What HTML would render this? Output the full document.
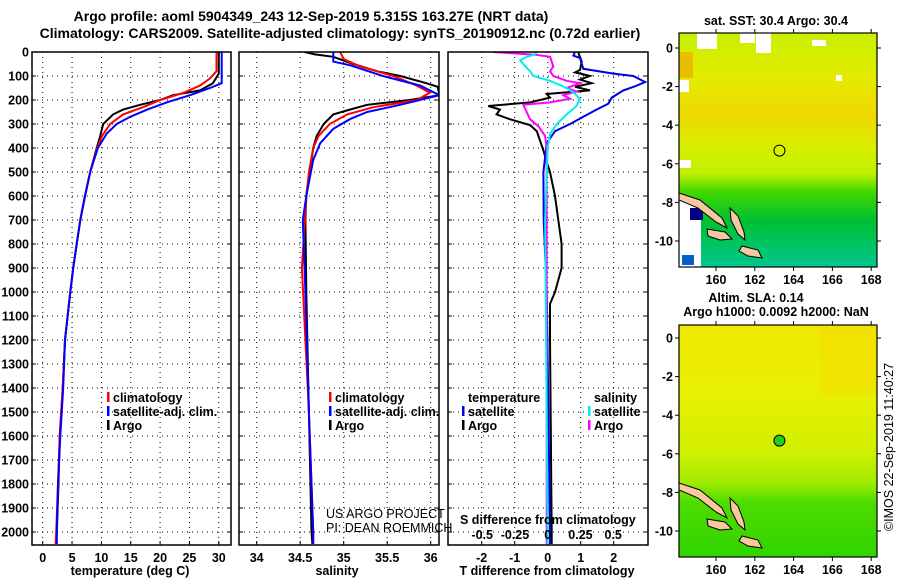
<!DOCTYPE html>
<html><head><meta charset="utf-8"><style>
html,body{margin:0;padding:0;background:#fff}
svg{display:block;font-family:"Liberation Sans",Arial,sans-serif}
.b{font-weight:bold}
</style></head><body>
<svg id="s" width="900" height="580" viewBox="0 0 900 580">
<text x="311" y="21" text-anchor="middle" class="b" font-size="14">Argo profile: aoml 5904349_243 12-Sep-2019 5.315S 163.27E (NRT data)</text>
<text x="340" y="38" text-anchor="middle" class="b" font-size="14">Climatology: CARS2009. Satellite-adjusted climatology: synTS_20190912.nc (0.72d earlier)</text>
<g id="maps"></g>
<g id="plots"></g>
</svg>
<script>
// ---------- data ----------
const depthTicks=[0,100,200,300,400,500,600,700,800,900,1000,1100,1200,1300,1400,1500,1600,1700,1800,1900,2000];
const tempTicks=[0,5,10,15,20,25,30];
const salTicks=[34,34.5,35,35.5,36];
const salTickLabels=["34","34.5","35","35.5","36"];
const tdiffTicks=[-2,-1,0,1,2];
const sdiffTicks=[-0.5,-0.25,0,0.25,0.5];
const sdiffTickLabels=["-0.5","-0.25","0","0.25","0.5"];

const argoTDepth=[0,90,130,160,180,200,220,240,260,300,350,400,500,600,700,800,900,1000,1200,1400,1600,1800,2000,2050];
const argoTVal=[30.0,30.0,29.0,26.8,22.2,20.0,16.6,13.7,12.0,10.3,9.8,9.2,8.1,7.2,6.4,5.8,5.2,4.7,3.8,3.4,2.9,2.7,2.4,2.3];
const climTDepth=[0,80,110,140,170,200,230,260,300,350,400,500,600,700,800,900,1000,1200,1400,1600,1800,2000,2050];
const climTVal=[29.6,29.6,28.5,26.8,24.0,20.0,17.1,13.7,11.5,10.1,9.3,8.1,7.2,6.4,5.8,5.2,4.7,3.8,3.4,2.9,2.6,2.3,2.2];
const satTDepth=[0,130,150,180,210,240,270,300,340,400,500,600,700,800,900,1000,1200,1400,1600,1800,2000,2050];
const satTVal=[30.5,30.5,28.5,25.1,21.1,17.8,14.9,12.6,10.9,9.4,8.1,7.2,6.4,5.8,5.2,4.7,3.8,3.5,3.0,2.6,2.4,2.4];

const argoSDepth=[0,10,20,50,80,100,130,145,180,200,220,240,260,300,350,400,500,600,700,1000,1500,2000,2050];
const argoSVal=[34.55,34.67,34.88,35.11,35.38,35.65,35.95,36.08,36.1,35.76,35.27,35.07,34.88,34.77,34.69,34.65,34.61,34.57,34.56,34.57,34.6,34.63,34.64];
const climSDepth=[0,30,60,100,140,170,200,230,260,300,350,400,500,600,900,1500,2000,2050];
const climSVal=[34.96,35.0,35.19,35.57,35.84,35.99,35.84,35.34,35.04,34.84,34.71,34.65,34.6,34.57,34.52,34.6,34.65,34.65];
const satSDepth=[0,40,55,100,140,180,220,250,280,320,380,450,600,700,1000,1500,2000,2050];
const satSVal=[34.88,34.88,35.07,35.45,35.88,36.1,35.65,35.27,35.07,34.88,34.73,34.65,34.57,34.53,34.56,34.6,34.65,34.65];

const satDTDepth=[0,15,25,70,90,100,125,140,160,190,215,240,270,300,330,380,500,700,1000,1500,2000,2050];
const satDTVal=[0.83,0.78,0.98,1.08,1.99,2.59,2.95,2.70,2.29,1.94,1.84,1.48,1.08,0.68,0.22,-0.03,-0.13,-0.12,-0.03,0.02,0.07,0.07];
const argoDTDepth=[0,40,75,85,100,115,130,145,160,175,190,210,225,240,260,280,305,330,370,410,450,500,600,700,800,900,1000,1050,1200,2000,2050];
const argoDTVal=[0.92,1.03,0.98,0.83,1.28,0.98,1.33,0.83,1.28,-0.03,0.07,-0.53,-1.8,-1.45,-1.55,-1.15,-0.53,-0.33,-0.23,-0.13,-0.05,0.07,0.22,0.32,0.42,0.42,0.22,0.07,0.07,0.12,0.12];
const argoDSDepth=[0,12,20,60,80,100,120,130,150,165,180,195,210,220,250,280,310,350,400,800,2000,2050];
const argoDSVal=[-0.415,-0.084,0.018,0.043,0.018,0.043,0.145,0.247,0.145,0.22,0.12,0.17,0.018,-0.186,-0.16,-0.135,-0.07,-0.02,-0.008,-0.008,-0.008,-0.008];
const satDSDepth=[0,10,20,35,60,80,100,120,150,170,195,225,260,300,340,400,700,2000,2050];
const satDSVal=[-0.084,-0.096,-0.16,-0.21,-0.17,-0.135,-0.11,0.018,0.145,0.2,0.247,0.22,0.145,0.07,0.018,0.0,-0.02,0.0,0.0];

// ---------- scales ----------
const Y0=52, YB=545;
const yD=d=>Y0+d*0.24;
const xT=t=>42.7+t*5.87;
const xS=s=>256.7+(s-34)*87;
const xDT=t=>547.7+t*33;
const xDS=s=>547.7+s*131;
const NS="http://www.w3.org/2000/svg";
const plots=document.getElementById('plots');
function mk(tag,attrs,parent){const e=document.createElementNS(NS,tag);for(const k in attrs)e.setAttribute(k,attrs[k]);(parent||plots).appendChild(e);return e;}
function txt(x,y,s,size,anchor,bold,parent){const e=mk('text',{x:x,y:y,'font-size':size,'text-anchor':anchor||'start'},parent);if(bold)e.setAttribute('font-weight','bold');e.textContent=s;return e;}

const panels=[{x0:32,x1:231,name:'temperature'},{x0:239,x1:439,name:'salinity'},{x0:448,x1:648,name:'difference'}];
panels.forEach((p,i)=>{
  const g=mk('g',{});
  
  
  const cp=mk('clipPath',{id:'cp'+i},g);mk('rect',{x:p.x0,y:Y0,width:p.x1-p.x0,height:YB-Y0},cp);
  depthTicks.forEach(d=>{const l=mk('line',{x1:p.x0,x2:p.x1,y1:yD(d),y2:yD(d),stroke:'#000','stroke-width':1,'stroke-dasharray':'1,4'},g);
    
    mk('line',{x1:p.x0,x2:p.x0+4,y1:yD(d),y2:yD(d),stroke:'#000'},g);mk('line',{x1:p.x1-4,x2:p.x1,y1:yD(d),y2:yD(d),stroke:'#000'},g);});
  p.g=g;
});
depthTicks.forEach(d=>{const t=txt(29,yD(d)+4.5,String(d),12.5,'end',true);
  });
function vgrid(p,vals,fx,labels,ly){vals.forEach((v,i)=>{const x=fx(v);
  const l=mk('line',{x1:x,x2:x,y1:Y0,y2:YB,stroke:'#000','stroke-dasharray':'1,4'},p.g);
  
  mk('line',{x1:x,x2:x,y1:YB-4,y2:YB,stroke:'#000'},p.g);
  if(labels){const t=txt(x,ly,labels[i],12.5,'middle',true);}});}
vgrid(panels[0],tempTicks,xT,tempTicks.map(String),562);
vgrid(panels[1],salTicks,xS,salTickLabels,562);
vgrid(panels[2],tdiffTicks,xDT,tdiffTicks.map(String),562);
sdiffTicks.forEach((v,i)=>{const t=txt(xDS(v),539,sdiffTickLabels[i],12.5,'middle',true);
  });
function series(p,dep,val,fx,col,name,w){const pts=dep.map((d,i)=>fx(val[i]).toFixed(1)+','+yD(d).toFixed(1)).join(' ');
  const l=mk('polyline',{points:pts,fill:'none',stroke:col,'stroke-width':w||2,'clip-path':'url(#cp'+p+')'},panels[p].g);
  }
series(0,argoTDepth,argoTVal,xT,'#000','argo-temperature-line');
series(0,climTDepth,climTVal,xT,'#f00','climatology-temperature-line');
series(0,satTDepth,satTVal,xT,'#00f','satellite-temperature-line');
series(1,argoSDepth,argoSVal,xS,'#000','argo-salinity-line');
series(1,climSDepth,climSVal,xS,'#f00','climatology-salinity-line');
series(1,satSDepth,satSVal,xS,'#00f','satellite-salinity-line');
series(2,argoDTDepth,argoDTVal,xDT,'#000','argo-t-diff-line');
series(2,satDTDepth,satDTVal,xDT,'#0000e0','satellite-t-diff-line');
series(2,argoDSDepth,argoDSVal,xDS,'#f0f','argo-s-diff-line');
series(2,satDSDepth,satDSVal,xDS,'#0ee','satellite-s-diff-line');
panels.forEach(p=>{mk('rect',{x:p.x0,y:Y0,width:p.x1-p.x0,height:YB-Y0,fill:'none',stroke:'#000','stroke-width':1.5},p.g);});
function leg(x,y,col,label,name){const g=mk('g',{});
  mk('rect',{x:x-6,y:y-10,width:2.5,height:10,fill:col},g);txt(x,y,label,12.5,'start',true,g);}
leg(113,402,'#f00','climatology','legend-climatology-t');
leg(113,416,'#00f','satellite-adj. clim.','legend-satellite-t');
leg(113,430,'#000','Argo','legend-argo-t');
leg(335,402,'#f00','climatology','legend-climatology-s');
leg(335,416,'#00f','satellite-adj. clim.','legend-satellite-s');
leg(335,430,'#000','Argo','legend-argo-s');
txt(468,402,'temperature',12.5,'start',true);
leg(468,416,'#0000e0','satellite','legend-satellite-dt');
leg(468,430,'#000','Argo','legend-argo-dt');
txt(594,402,'salinity',12.5,'start',true);
leg(594,416,'#0ee','satellite','legend-satellite-ds');
leg(594,430,'#f0f','Argo','legend-argo-ds');
let t;
t=txt(326,518,'US ARGO PROJECT',12.5,'start',false);
t=txt(326,532,'PI: DEAN ROEMMICH',12.5,'start',false);
t=txt(460,524,'S difference from climatology',12.5,'start',true);
t=txt(130,575,'temperature (deg C)',12.5,'middle',true);
t=txt(337,575,'salinity',12.5,'middle',true);
t=txt(547,575,'T difference from climatology',12.5,'middle',true);

// ---------- maps ----------
const maps=document.getElementById('maps');
const lonTicks=[160,162,164,166,168];
const latTicks=[0,-2,-4,-6,-8,-10];
function drawMap(y0,y1,lat0y,name,sst){
  const g=mk('g',{},maps);
  const x0=679,x1=877;const lx=lon=>716+(lon-160)*19.4;const ly=lat=>lat0y-lat*19.3;
  const id='mc'+name;const cp=mk('clipPath',{id:id},g);mk('rect',{x:x0,y:y0,width:x1-x0,height:y1-y0},cp);
  const gg=mk('g',{'clip-path':'url(#'+id+')'},g);
  const gr=mk('linearGradient',{id:'gr'+name,x1:0,y1:0,x2:0,y2:1},g);
  const stops=sst?[[0,'#c8f000'],[0.2,'#e4ea00'],[0.35,'#f0d800'],[0.5,'#d4f000'],[0.6,'#c0f000'],[0.68,'#40d800'],[0.8,'#00c030'],[1,'#00c890']]
                 :[[0,'#f0e800'],[0.3,'#e8f000'],[0.55,'#d0f000'],[0.68,'#a0ec00'],[0.76,'#50dc00'],[1,'#30d400']];
  stops.forEach(s=>mk('stop',{offset:s[0],'stop-color':s[1]},gr));
  mk('rect',{x:x0,y:y0,width:x1-x0,height:y1-y0,fill:'url(#gr'+name+')'},gg);
  if(sst){
    mk('rect',{x:679,y:52,width:14,height:26,fill:'#f0a000',opacity:0.6},gg);
    [[697,33,20,16],[740,33,15,10],[812,40,14,6],[836,75,6,6],[679,80,10,12],[679,160,12,8],[679,200,22,68],[756,33,15,20]].forEach(r=>mk('rect',{x:r[0],y:r[1],width:r[2],height:r[3],fill:'#fff'},gg));
    mk('rect',{x:690,y:208,width:13,height:12,fill:'#000080'},gg);
    mk('rect',{x:682,y:255,width:12,height:10,fill:'#0060d0'},gg);
  } else {
    mk('rect',{x:820,y:325,width:57,height:70,fill:'#f5dc00',opacity:0.5},gg);
  }
  const isl=[[[679,193],[700,200],[722,218],[727,228],[716,222],[698,208],[679,200]],
             [[730,208],[738,216],[744,232],[745,240],[738,234],[731,220]],
             [[707,229],[725,232],[732,239],[720,240],[708,236]],
             [[742,246],[758,250],[762,258],[748,256],[739,251]]];
  const off=lat0y-48;
  isl.forEach(pl=>{const p=mk('polygon',{points:pl.map(q=>q[0]+','+(q[1]+off)).join(' '),fill:'#f8c8a0',stroke:'#000','stroke-width':1},gg);
    });
  const m=mk('circle',{cx:lx(163.27),cy:ly(-5.315),r:5.5,fill:sst?'none':'#20d020',stroke:'#000','stroke-width':1},g);
  
  mk('rect',{x:x0,y:y0,width:x1-x0,height:y1-y0,fill:'none',stroke:'#000','stroke-width':1.2},g);
  lonTicks.forEach(l=>{const x=lx(l);mk('line',{x1:x,x2:x,y1:y1,y2:y1+4,stroke:'#000'},g);mk('line',{x1:x,x2:x,y1:y0,y2:y0-4,stroke:'#000'},g);
    const t=txt(x,y1+17,String(l),12.5,'middle',true,g);});
  latTicks.forEach(l=>{const y=ly(l);mk('line',{x1:x0-4,x2:x0,y1:y,y2:y,stroke:'#000'},g);mk('line',{x1:x1,x2:x1+4,y1:y,y2:y,stroke:'#000'},g);
    const t=txt(673,y+4.5,String(l),12.5,'end',true,g);});
}
drawMap(33,267,48,'sst-map',true);
drawMap(325,557,338,'sla-map',false);
t=txt(776,25,'sat. SST: 30.4 Argo: 30.4',12.5,'middle',true,maps);
t=txt(756,302,'Altim. SLA: 0.14',12.5,'middle',true,maps);
t=txt(776,316,'Argo h1000: 0.0092 h2000: NaN',12.5,'middle',true,maps);
t=txt(0,0,'©IMOS 22-Sep-2019 11:40:27',12.5,'middle',false,maps);t.setAttribute('transform','translate(893,447) rotate(-90)');

</script>
</body></html>
